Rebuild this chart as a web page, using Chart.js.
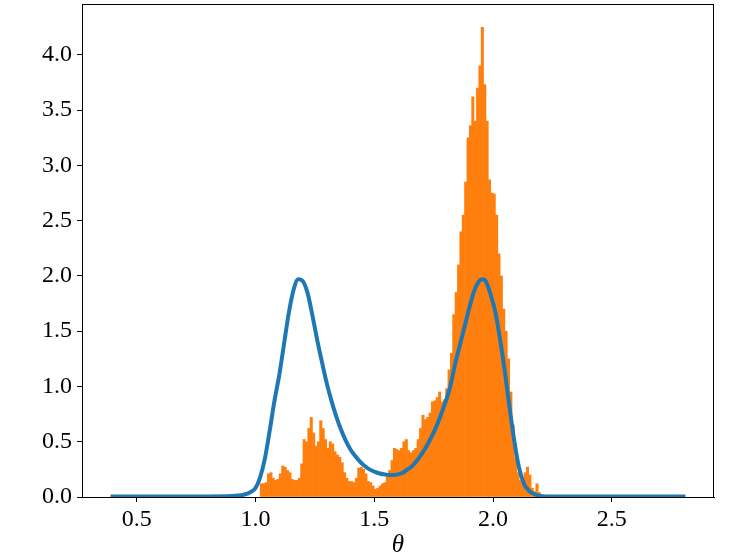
<!DOCTYPE html>
<html lang="en">
<head>
  <meta charset="UTF-8">
  <title>Histogram of theta with density curve</title>
  <script src="https://cdn.jsdelivr.net/npm/chart.js"></script>
  <style>
    body { margin: 0; background: #fff; }
  </style>
</head>
<body>
  <canvas id="chart" width="747" height="560"></canvas>

  <script>
    // histogram bin centres and heights (bin width 0.01)
    const histX = [
      1.025, 1.035, 1.045, 1.055, 1.065, 1.075, 1.085, 1.095, 1.105, 1.115,
      1.125, 1.135, 1.145, 1.155, 1.165, 1.175, 1.185, 1.195, 1.205, 1.215,
      1.225, 1.235, 1.245, 1.255, 1.265, 1.275, 1.285, 1.295, 1.305, 1.315,
      1.325, 1.335, 1.345, 1.355, 1.365, 1.375, 1.385, 1.395, 1.405, 1.415,
      1.425, 1.435, 1.445, 1.455, 1.465, 1.475, 1.485, 1.495, 1.505, 1.515,
      1.525, 1.535, 1.545, 1.555, 1.565, 1.575, 1.585, 1.595, 1.605, 1.615,
      1.625, 1.635, 1.645, 1.655, 1.665, 1.675, 1.685, 1.695, 1.705, 1.715,
      1.725, 1.735, 1.745, 1.755, 1.765, 1.775, 1.785, 1.795, 1.805, 1.815,
      1.825, 1.835, 1.845, 1.855, 1.865, 1.875, 1.885, 1.895, 1.905, 1.915,
      1.925, 1.935, 1.945, 1.955, 1.965, 1.975, 1.985, 1.995, 2.005, 2.015,
      2.025, 2.035, 2.045, 2.055, 2.065, 2.075, 2.085, 2.095, 2.105, 2.115,
      2.125, 2.135, 2.145, 2.155, 2.165, 2.175, 2.185, 2.195
    ];
    const histY = [
      0.12, 0.12, 0.13, 0.21, 0.22, 0.17, 0.15, 0.16, 0.21, 0.28,
      0.27, 0.24, 0.22, 0.16, 0.15, 0.15, 0.17, 0.30, 0.52, 0.50,
      0.62, 0.72, 0.58, 0.46, 0.50, 0.69, 0.62, 0.52, 0.44, 0.50,
      0.48, 0.41, 0.38, 0.36, 0.31, 0.22, 0.17, 0.14, 0.14, 0.13,
      0.17, 0.26, 0.27, 0.25, 0.21, 0.14, 0.13, 0.10, 0.07, 0.08,
      0.10, 0.12, 0.13, 0.18, 0.24, 0.33, 0.44, 0.43, 0.42, 0.44,
      0.50, 0.52, 0.42, 0.40, 0.42, 0.44, 0.52, 0.62, 0.74, 0.70,
      0.72, 0.76, 0.86, 0.87, 0.90, 0.95, 0.86, 0.88, 0.98, 1.15,
      1.30, 1.65, 1.85, 2.10, 2.40, 2.55, 2.85, 3.25, 3.36, 3.62,
      3.40, 3.70, 3.90, 4.25, 3.73, 3.40, 2.87, 2.75, 2.74, 2.55,
      2.20, 2.00, 1.70, 1.50, 1.25, 0.95, 0.65, 0.35, 0.22, 0.15,
      0.12, 0.22, 0.27, 0.20, 0.08, 0.05, 0.12, 0.04
    ];

    // density curve
    const curveX = [
      0.39, 0.50, 0.60, 0.70, 0.80, 0.90, 0.95, 0.98, 1.00, 1.02,
      1.04, 1.06, 1.08, 1.10, 1.12, 1.14, 1.16, 1.18, 1.20, 1.22,
      1.24, 1.26, 1.28, 1.30, 1.32, 1.34, 1.36, 1.38, 1.40, 1.42,
      1.44, 1.46, 1.48, 1.50, 1.52, 1.54, 1.56, 1.58, 1.60, 1.62,
      1.64, 1.66, 1.68, 1.70, 1.72, 1.74, 1.76, 1.78, 1.80, 1.82,
      1.84, 1.86, 1.88, 1.90, 1.92, 1.94, 1.955, 1.97, 1.99, 2.01,
      2.03, 2.05, 2.07, 2.09, 2.11, 2.13, 2.15, 2.17, 2.20, 2.25,
      2.40, 2.60, 2.81
    ];
    const curveY = [
      0.005, 0.005, 0.005, 0.005, 0.005, 0.008, 0.02, 0.045, 0.08, 0.18,
      0.35, 0.60, 0.87, 1.10, 1.38, 1.66, 1.87, 1.97, 1.95, 1.84,
      1.64, 1.42, 1.22, 1.03, 0.87, 0.73, 0.61, 0.51, 0.43, 0.37,
      0.32, 0.28, 0.25, 0.23, 0.215, 0.205, 0.20, 0.20, 0.205, 0.22,
      0.25, 0.28, 0.33, 0.39, 0.46, 0.54, 0.63, 0.74, 0.86, 1.00,
      1.20, 1.37, 1.54, 1.71, 1.86, 1.95, 1.97, 1.95, 1.83, 1.67,
      1.42, 1.13, 0.80, 0.50, 0.26, 0.12, 0.06, 0.03, 0.01, 0.005,
      0.005, 0.005, 0.005
    ];

    const xTicks = [0.5, 1.0, 1.5, 2.0, 2.5];
    const yTicks = [0.0, 0.5, 1.0, 1.5, 2.0, 2.5, 3.0, 3.5, 4.0];

    const serif = '"Liberation Serif", "DejaVu Serif", serif';

    // full box around the plot area like matplotlib
    const frame = {
      id: 'frame',
      afterDraw(chart) {
        const a = chart.chartArea;
        const ctx = chart.ctx;
        ctx.save();
        ctx.strokeStyle = '#000';
        ctx.lineWidth = 1;
        ctx.strokeRect(a.left + 0.5, a.top + 0.5, a.right - a.left - 1, a.bottom - a.top);
        ctx.restore();
      }
    };

    const ctx = document.getElementById('chart').getContext('2d');
    new Chart(ctx, {
      data: {
        datasets: [
          {
            type: 'line',
            data: curveX.map((x, i) => ({ x: x, y: curveY[i] })),
            borderColor: '#1f77b4',
            borderWidth: 4,
            pointRadius: 0,
            cubicInterpolationMode: 'monotone',
            fill: false,
            order: 0
          },
          {
            type: 'bar',
            data: histX.map((x, i) => ({ x: x, y: histY[i] })),
            backgroundColor: '#ff7f0e',
            borderWidth: 0,
            barPercentage: 1.0,
            categoryPercentage: 1.0,
            order: 1
          }
        ]
      },
      options: {
        responsive: false,
        animation: false,
        layout: { padding: { top: 4, right: 33, left: 0, bottom: 0 } },
        plugins: {
          legend: { display: false },
          tooltip: { enabled: false }
        },
        scales: {
          x: {
            type: 'linear',
            offset: false,
            min: 0.27,
            max: 2.93,
            afterBuildTicks: s => { s.ticks = xTicks.map(v => ({ value: v })); },
            afterFit: s => { s.height = 63; s.paddingLeft = 0; s.paddingRight = 0; },
            grid: { offset: false, drawOnChartArea: false, color: '#000', tickLength: 5, tickWidth: 1 },
            border: { color: '#000', width: 1 },
            ticks: {
              color: '#000',
              padding: 3,
              maxRotation: 0,
              font: { family: serif, size: 24 },
              callback: v => v.toFixed(1)
            },
            title: {
              display: true,
              text: 'θ',
              color: '#000',
              padding: { top: 0, bottom: 0 },
              font: { family: serif, size: 25, style: 'italic' }
            }
          },
          y: {
            type: 'linear',
            min: 0,
            max: 4.46,
            afterBuildTicks: s => { s.ticks = yTicks.map(v => ({ value: v })); },
            afterFit: s => { s.width = 82; s.paddingTop = 0; s.paddingBottom = 0; },
            grid: { drawOnChartArea: false, color: '#000', tickLength: 5, tickWidth: 1 },
            border: { color: '#000', width: 1 },
            ticks: {
              color: '#000',
              padding: 5,
              font: { family: serif, size: 24 },
              callback: v => v.toFixed(1)
            }
          }
        }
      },
      plugins: [frame]
    });
  </script>
</body>
</html>
